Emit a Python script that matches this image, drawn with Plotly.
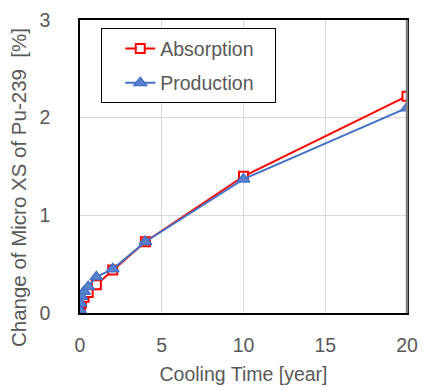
import plotly.graph_objects as go

cooling_time = [0, 0.02, 0.08, 0.25, 0.5, 1, 2, 4, 10, 20]
absorption = [0.0, 0.05, 0.10, 0.16, 0.21, 0.29, 0.44, 0.73, 1.40, 2.22]
production = [0.03, 0.10, 0.17, 0.22, 0.27, 0.37, 0.45, 0.73, 1.37, 2.10]

x_ticks = [0, 5, 10, 15, 20]
y_ticks = [0, 1, 2, 3]

FONT = "Liberation Sans, Arial, sans-serif"
GREY = "#595959"

fig = go.Figure()
fig.add_trace(go.Scatter(
    x=cooling_time, y=absorption, name="Absorption\u00a0\u00a0\u00a0", mode="lines+markers",
    legendgroup="a",
    line=dict(color="#FF0000", width=2),
    marker=dict(symbol="square", size=9, color="white",
                line=dict(color="#FF0000", width=2)),
))
fig.add_trace(go.Scatter(
    x=cooling_time, y=production, name="Production\u00a0\u00a0\u00a0", mode="lines+markers",
    legendgroup="b",
    line=dict(color="#4472C4", width=2),
    marker=dict(symbol="triangle-up", size=11, color="#5b82cc",
                line=dict(color="#4472C4", width=1.5)),
))

fig.update_layout(
    width=427, height=391,
    margin=dict(l=80, r=9, t=13, b=78),
    paper_bgcolor="white", plot_bgcolor="white",
    font=dict(family=FONT, size=19.5, color=GREY),
    showlegend=True,
    legend=dict(
        x=0.065, y=0.972, xanchor="left", yanchor="top",
        bgcolor="white", bordercolor="black", borderwidth=1,
        font=dict(family=FONT, size=19.5, color=GREY),
        tracegroupgap=6, indentation=18,
    ),
    xaxis=dict(
        range=[0, 20], tickvals=x_ticks, ticktext=[str(v) for v in x_ticks],
        showgrid=True, gridcolor="#d9d9d9", gridwidth=1,
        showline=True, linecolor="black", linewidth=1.5, mirror=True,
        zeroline=False, ticks="", ticklabelstandoff=14,
        title=dict(text="Cooling Time [year]", standoff=12,
                   font=dict(family=FONT, size=19.5, color=GREY)),
    ),
    yaxis=dict(
        range=[0, 3], tickvals=y_ticks, ticktext=[str(v) for v in y_ticks],
        showgrid=True, gridcolor="#d9d9d9", gridwidth=1,
        showline=True, linecolor="black", linewidth=1.5, mirror=True,
        zeroline=False, ticks="", ticklabelstandoff=24,
    ),
)
fig.add_annotation(
    text="Change of Micro XS of Pu-239\u00a0\u00a0[%]", textangle=-90,
    xref="paper", yref="paper", x=-0.186, y=0.427,
    xanchor="center", yanchor="middle", showarrow=False,
    font=dict(family=FONT, size=20.5, color=GREY),
)
fig.add_shape(type="line", xref="paper", yref="paper", x0=1, x1=1, y0=0, y1=1,
              line=dict(color="#7f7f7f", width=2.5))

fig.write_html("out.html")
